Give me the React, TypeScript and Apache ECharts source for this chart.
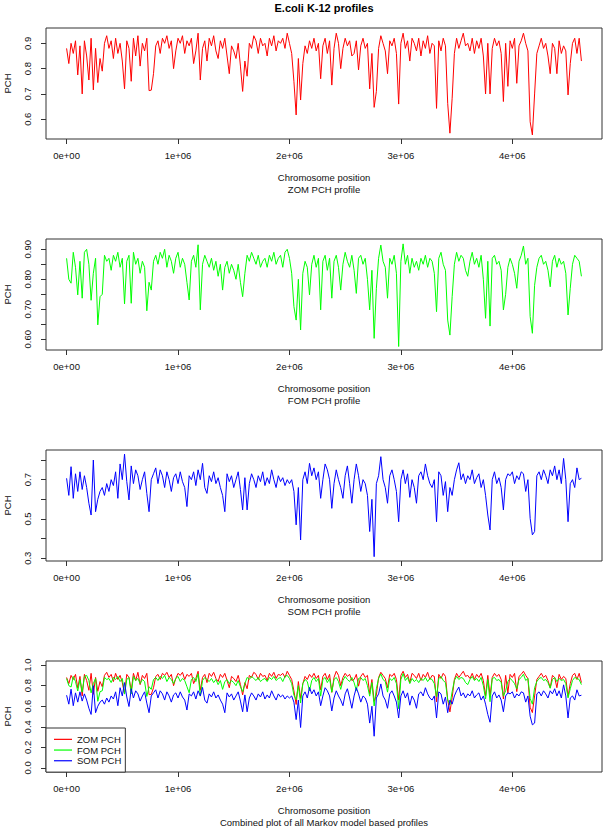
import React, { useEffect, useRef } from "react";
import * as echarts from "echarts";

// Sliding-window step along the chromosome (bp)
const WINDOW_STEP = 20000;

// Zero-order Markov PCH profile
const ZOM = [
  0.88, 0.82, 0.90, 0.86, 0.91, 0.775, 0.89, 0.70, 0.91, 0.85,
  0.755, 0.92, 0.716, 0.88, 0.745, 0.84, 0.79, 0.90, 0.93, 0.88,
  0.91, 0.84, 0.92, 0.86, 0.90, 0.83, 0.72, 0.91, 0.88, 0.75,
  0.92, 0.85, 0.93, 0.81, 0.90, 0.87, 0.92, 0.713, 0.715, 0.78,
  0.89, 0.91, 0.86, 0.92, 0.90, 0.93, 0.88, 0.91, 0.80, 0.87,
  0.92, 0.90, 0.93, 0.86, 0.91, 0.89, 0.92, 0.82, 0.87, 0.94,
  0.755, 0.88, 0.91, 0.83, 0.92, 0.89, 0.93, 0.87, 0.84, 0.91,
  0.88, 0.92, 0.85, 0.78, 0.89, 0.87, 0.84, 0.90, 0.81, 0.71,
  0.83, 0.77, 0.90, 0.88, 0.93, 0.91, 0.86, 0.92, 0.89, 0.90,
  0.85, 0.92, 0.89, 0.93, 0.87, 0.91, 0.90, 0.92, 0.88, 0.94,
  0.90, 0.86, 0.75, 0.617, 0.84, 0.676, 0.82, 0.89, 0.86, 0.91,
  0.88, 0.92, 0.87, 0.90, 0.76, 0.89, 0.92, 0.86, 0.91, 0.735,
  0.88, 0.94, 0.90, 0.80, 0.88, 0.92, 0.89, 0.91, 0.85, 0.86,
  0.91, 0.795, 0.89, 0.92, 0.88, 0.90, 0.72, 0.86, 0.647, 0.71,
  0.88, 0.93, 0.90, 0.87, 0.78, 0.91, 0.89, 0.92, 0.86, 0.66,
  0.90, 0.94, 0.88, 0.91, 0.83, 0.92, 0.90, 0.87, 0.92, 0.85,
  0.91, 0.88, 0.93, 0.86, 0.90, 0.89, 0.643, 0.91, 0.87, 0.92,
  0.89, 0.663, 0.545, 0.683, 0.86, 0.92, 0.88, 0.91, 0.94, 0.89,
  0.90, 0.87, 0.92, 0.86, 0.91, 0.88, 0.92, 0.85, 0.70, 0.90,
  0.70, 0.88, 0.92, 0.89, 0.91, 0.86, 0.67, 0.90, 0.73, 0.91,
  0.88, 0.92, 0.742, 0.89, 0.91, 0.94, 0.90, 0.87, 0.59, 0.538,
  0.70, 0.86, 0.89, 0.92, 0.88, 0.90, 0.85, 0.78, 0.90, 0.88,
  0.78, 0.91, 0.86, 0.89, 0.87, 0.696, 0.82, 0.90, 0.92, 0.86,
  0.92, 0.83,
];

// First-order Markov PCH profile
const FOM = [
  0.87, 0.80, 0.787, 0.89, 0.84, 0.748, 0.86, 0.737, 0.89, 0.90,
  0.85, 0.73, 0.82, 0.87, 0.648, 0.742, 0.75, 0.88, 0.86, 0.87,
  0.83, 0.88, 0.86, 0.89, 0.84, 0.87, 0.718, 0.86, 0.88, 0.72,
  0.89, 0.85, 0.87, 0.82, 0.86, 0.84, 0.695, 0.79, 0.764, 0.86,
  0.88, 0.85, 0.89, 0.87, 0.90, 0.84, 0.88, 0.86, 0.82, 0.87,
  0.89, 0.84, 0.87, 0.85, 0.79, 0.731, 0.86, 0.88, 0.84, 0.915,
  0.698, 0.85, 0.88, 0.86, 0.84, 0.87, 0.83, 0.86, 0.81, 0.85,
  0.764, 0.84, 0.86, 0.82, 0.85, 0.83, 0.80, 0.85, 0.79, 0.742,
  0.82, 0.88, 0.86, 0.89, 0.87, 0.85, 0.88, 0.84, 0.86, 0.87,
  0.84, 0.88, 0.86, 0.89, 0.85, 0.87, 0.88, 0.84, 0.89, 0.90,
  0.87, 0.82, 0.709, 0.664, 0.80, 0.631, 0.82, 0.86, 0.84, 0.748,
  0.85, 0.88, 0.84, 0.87, 0.698, 0.86, 0.88, 0.83, 0.87, 0.737,
  0.86, 0.88, 0.84, 0.764, 0.85, 0.89, 0.86, 0.84, 0.88, 0.83,
  0.753, 0.87, 0.88, 0.85, 0.87, 0.80, 0.698, 0.83, 0.603, 0.77,
  0.87, 0.914, 0.86, 0.84, 0.737, 0.87, 0.85, 0.88, 0.82, 0.576,
  0.86, 0.918, 0.85, 0.88, 0.82, 0.87, 0.84, 0.86, 0.83, 0.87,
  0.85, 0.88, 0.84, 0.87, 0.86, 0.82, 0.692, 0.87, 0.89, 0.85,
  0.83, 0.664, 0.614, 0.742, 0.85, 0.89, 0.86, 0.88, 0.87, 0.83,
  0.81, 0.86, 0.89, 0.85, 0.87, 0.84, 0.88, 0.80, 0.67, 0.86,
  0.644, 0.87, 0.88, 0.85, 0.86, 0.83, 0.698, 0.75, 0.84, 0.87,
  0.85, 0.82, 0.77, 0.86, 0.88, 0.911, 0.85, 0.87, 0.676, 0.62,
  0.78, 0.84, 0.87, 0.88, 0.85, 0.86, 0.83, 0.775, 0.86, 0.88,
  0.84, 0.87, 0.85, 0.86, 0.82, 0.681, 0.77, 0.85, 0.88, 0.87,
  0.86, 0.81,
];

// Second-order Markov PCH profile
const SOM = [
  0.707, 0.62, 0.766, 0.605, 0.73, 0.64, 0.74, 0.65, 0.72, 0.66,
  0.58, 0.52, 0.80, 0.537, 0.60, 0.64, 0.66, 0.62, 0.68, 0.64,
  0.70, 0.67, 0.74, 0.605, 0.78, 0.70, 0.83, 0.69, 0.597, 0.77,
  0.68, 0.75, 0.72, 0.65, 0.70, 0.74, 0.63, 0.537, 0.70, 0.73,
  0.76, 0.68, 0.75, 0.72, 0.66, 0.74, 0.70, 0.64, 0.71, 0.73,
  0.68, 0.74, 0.69, 0.66, 0.563, 0.72, 0.70, 0.74, 0.67, 0.75,
  0.70, 0.783, 0.66, 0.63, 0.72, 0.69, 0.74, 0.68, 0.71, 0.66,
  0.62, 0.537, 0.73, 0.69, 0.72, 0.66, 0.70, 0.74, 0.65, 0.546,
  0.71, 0.546, 0.68, 0.73, 0.70, 0.66, 0.72, 0.69, 0.74, 0.67,
  0.71, 0.68, 0.75, 0.70, 0.66, 0.72, 0.69, 0.71, 0.67, 0.70,
  0.68, 0.70, 0.64, 0.47, 0.66, 0.393, 0.70, 0.74, 0.68, 0.783,
  0.72, 0.76, 0.70, 0.74, 0.605, 0.70, 0.78, 0.75, 0.70, 0.554,
  0.68, 0.75, 0.70, 0.66, 0.605, 0.72, 0.77, 0.68, 0.58, 0.70,
  0.78, 0.72, 0.64, 0.70, 0.68, 0.62, 0.436, 0.60, 0.308, 0.68,
  0.72, 0.817, 0.70, 0.66, 0.58, 0.72, 0.75, 0.70, 0.64, 0.486,
  0.70, 0.75, 0.68, 0.73, 0.61, 0.70, 0.66, 0.58, 0.72, 0.74,
  0.70, 0.78, 0.72, 0.68, 0.66, 0.70, 0.486, 0.74, 0.72, 0.62,
  0.69, 0.537, 0.66, 0.62, 0.70, 0.75, 0.786, 0.70, 0.73, 0.68,
  0.72, 0.70, 0.75, 0.68, 0.71, 0.73, 0.66, 0.70, 0.62, 0.52,
  0.444, 0.70, 0.74, 0.68, 0.71, 0.66, 0.546, 0.70, 0.73, 0.72,
  0.74, 0.68, 0.72, 0.70, 0.74, 0.73, 0.64, 0.70, 0.503, 0.419,
  0.436, 0.72, 0.74, 0.70, 0.75, 0.72, 0.68, 0.75, 0.72, 0.77,
  0.70, 0.75, 0.68, 0.808, 0.70, 0.486, 0.68, 0.70, 0.66, 0.76,
  0.70, 0.707,
];

const X_TICKS = [0, 1000000, 2000000, 3000000, 4000000];
const Y1_TICKS = [0.6, 0.7, 0.8, 0.9];
const Y1_LABELS = [0.6, 0.7, 0.8, 0.9];
const Y2_TICKS = [0.6, 0.65, 0.7, 0.75, 0.8, 0.85, 0.9];
const Y2_LABELS = [0.6, 0.7, 0.8, 0.9];
const Y3_TICKS = [0.3, 0.4, 0.5, 0.6, 0.7, 0.8];
const Y3_LABELS = [0.3, 0.5, 0.7];
const Y4_TICKS = [0, 0.2, 0.4, 0.6, 0.8, 1.0];
const Y4_LABELS = [0, 0.2, 0.4, 0.6, 0.8, 1.0];

const SUBTITLES = [
  "ZOM PCH profile",
  "FOM PCH profile",
  "SOM PCH profile",
  "Combined plot of all Markov model based profiles",
];
const LEGEND_NAMES = ["ZOM PCH", "FOM PCH", "SOM PCH"];
const COLORS = ["#FF0000", "#00FF00", "#0000FF"];

const FONT = "'Liberation Sans', Arial, Helvetica, sans-serif";
const TEXT_COLOR = "#111";
const FS = 9.5;

function toPairs(values: number[]) {
  return values.map((v, i) => [i * WINDOW_STEP, v]);
}

export default function App() {
  const ref = useRef<HTMLDivElement>(null);

  useEffect(() => {
    if (!ref.current) return;
    const chart = echarts.init(ref.current, undefined, { renderer: "svg" });

    const xMaxData = (ZOM.length - 1) * WINDOW_STEP;
    const xMin = -0.04 * xMaxData;
    const xMax = 1.04 * xMaxData;

    const tops = [28, 239, 450, 661];
    const H = 111;

    const yRanges = [
      [0.522, 0.9605],
      [0.5643, 0.9343],
      [0.286, 0.851],
      [-0.04, 1.04],
    ];
    const yTicks = [Y1_TICKS, Y2_TICKS, Y3_TICKS, Y4_TICKS];
    const yLabels = [Y1_LABELS, Y2_LABELS, Y3_LABELS, Y4_LABELS];
    const yDigits = [1, 2, 1, 1];

    const grids = tops.map((t) => ({
      left: 46,
      right: 3,
      top: t,
      height: H,
      containLabel: false,
      outerBoundsMode: "none",
      show: true,
      borderColor: "#333",
      borderWidth: 1,
      backgroundColor: "transparent",
    }));

    const xAxes = tops.map((_, i) => ({
      type: "value",
      gridIndex: i,
      min: xMin,
      max: xMax,
      position: "bottom",
      axisLine: { show: false, onZero: false },
      splitLine: { show: false },
      axisTick: {
        show: true,
        length: 5,
        customValues: X_TICKS,
        lineStyle: { color: "#333", width: 1 },
      },
      axisLabel: {
        show: true,
        customValues: X_TICKS,
        margin: 11,
        fontSize: FS,
        fontFamily: FONT,
        color: TEXT_COLOR,
        formatter: (v: number) =>
          v === 0 ? "0e+00" : `${Math.round(v / 1e6)}e+06`,
      },
      name: `Chromosome position\n${SUBTITLES[i]}`,
      nameLocation: "middle",
      nameGap: 33,
      nameTextStyle: {
        fontSize: FS,
        fontFamily: FONT,
        color: TEXT_COLOR,
        lineHeight: 11.5,
      },
    }));

    const yAxes = tops.map((_, i) => ({
      type: "value",
      gridIndex: i,
      min: yRanges[i][0],
      max: yRanges[i][1],
      position: "left",
      axisLine: { show: false, onZero: false },
      splitLine: { show: false },
      axisTick: {
        show: true,
        length: 5,
        customValues: yTicks[i],
        lineStyle: { color: "#333", width: 1 },
      },
      axisLabel: {
        show: true,
        customValues: yLabels[i],
        rotate: 90,
        margin: 14,
        fontSize: FS,
        fontFamily: FONT,
        color: TEXT_COLOR,
        formatter: (v: number) => v.toFixed(yDigits[i]),
      },
      name: "PCH",
      nameLocation: "middle",
      nameRotate: 90,
      nameGap: 34,
      nameTextStyle: { fontSize: FS, fontFamily: FONT, color: TEXT_COLOR },
    }));

    const single = [ZOM, FOM, SOM].map((vals, i) => ({
      type: "line",
      name: ["ZOM", "FOM", "SOM"][i],
      xAxisIndex: i,
      yAxisIndex: i,
      data: toPairs(vals),
      symbol: "none",
      lineStyle: { color: COLORS[i], width: 1 },
      itemStyle: { color: COLORS[i] },
      silent: true,
    }));

    const combined = [ZOM, FOM, SOM].map((vals, i) => ({
      type: "line",
      name: LEGEND_NAMES[i],
      xAxisIndex: 3,
      yAxisIndex: 3,
      data: toPairs(vals),
      symbol: "none",
      lineStyle: { color: COLORS[i], width: 1 },
      itemStyle: { color: COLORS[i] },
      silent: true,
    }));

    chart.setOption({
      animation: false,
      backgroundColor: "#fff",
      title: {
        text: "E.coli K-12 profiles",
        left: 324,
        textAlign: "center",
        top: 2,
        padding: 0,
        textStyle: {
          fontSize: 11,
          fontWeight: "bold",
          fontFamily: FONT,
          color: "#000",
        },
      },
      legend: {
        data: LEGEND_NAMES,
        orient: "vertical",
        left: 46,
        top: 728,
        padding: [6, 4, 6, 8],
        itemGap: 0,
        itemWidth: 18,
        itemHeight: 1.2,
        itemTextGap: 8,
        icon: "rect",
        backgroundColor: "#fff",
        borderColor: "#333",
        borderWidth: 1,
        borderRadius: 0,
        selectedMode: false,
        textStyle: {
          fontSize: FS,
          fontFamily: FONT,
          color: TEXT_COLOR,
          lineHeight: 10.7,
        },
      },
      grid: grids,
      xAxis: xAxes,
      yAxis: yAxes,
      series: [...single, ...combined],
    });

    return () => {
      chart.dispose();
    };
  }, []);

  return (
    <div
      ref={ref}
      style={{
        position: "fixed",
        left: 0,
        top: 0,
        width: 605,
        height: 829,
        background: "#fff",
      }}
    />
  );
}
